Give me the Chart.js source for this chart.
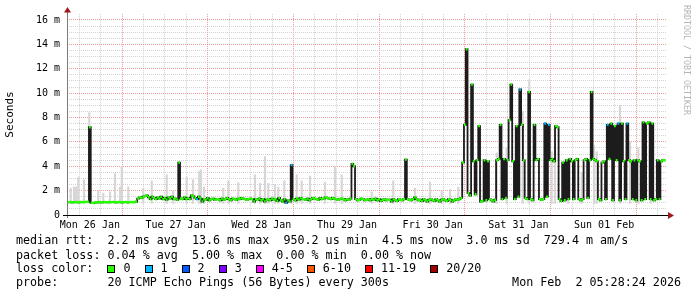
<!DOCTYPE html>
<html>
<head>
<meta charset="utf-8">
<script src="https://cdn.jsdelivr.net/npm/chart.js@4.4.1/dist/chart.umd.min.js"></script>
<style>
  html, body { margin: 0; padding: 0; background: #fff; }
  #wrap { position: relative; width: 697px; height: 297px; overflow: hidden; }
  #chart { position: absolute; left: 0; top: 0; }
  .row { position: absolute; left: 16px; font: 11.7px 'DejaVu Sans Mono', monospace; line-height: 12px; white-space: pre; color: #000; }
  .box { display: inline-block; width: 6px; height: 6px; border: 1px solid #000; margin-right: 8px; vertical-align: -1px; }
  .lbl { margin-right: 14px; }
  #stamp { position: absolute; right: 16px; top: 276px; font: 11.7px 'DejaVu Sans Mono', monospace; line-height: 12px; white-space: pre; }
  #credit { position: absolute; left: 682px; top: 5px; writing-mode: vertical-rl; font: 8.3px 'DejaVu Sans Mono', monospace; color: #b4b4b4; white-space: pre; }
</style>
</head>
<body>
<div id="wrap">
  <canvas id="chart" width="697" height="297"></canvas>
  <div class="row" style="top:234px">median rtt:  2.2 ms avg  13.6 ms max  950.2 us min  4.5 ms now  3.0 ms sd  729.4 m am/s</div>
  <div class="row" style="top:249px">packet loss: 0.04 % avg  5.00 % max  0.00 % min  0.00 % now</div>
  <div class="row" id="lossRow" style="top:262px">loss color:  </div>
  <div class="row" style="top:276px">probe:       20 ICMP Echo Pings (56 Bytes) every 300s</div>
  <div id="stamp">Mon Feb  2 05:28:24 2026</div>
  <div id="credit">RRDTOOL / TOBI OETIKER</div>
</div>
<script>
// median rtt in ms, one value per half hour
const medianMon26 = [1.05,1.06,1.04,1.05,1.07,1.05,1.04,1.06,1.05,1.07,1.06,1.08,
  7.2,1.0,0.98,1.02,1.04,1.03,1.05,1.04,1.06,1.05,1.04,1.06,
  1.05,1.07,1.05,1.04,1.06,1.05,1.04,1.05,1.06,1.04,1.05,1.06];
const medianTue27 = [1.05,1.05,1.1,1.35,1.45,1.4,1.5,1.55,1.6,1.45,1.3,1.5,
  1.4,1.3,1.45,1.35,1.5,1.3,1.4,1.25,1.45,1.35,1.5,1.3,
  1.35,1.25,4.3,1.35,1.3,1.45,1.3,1.4,1.3,1.6,1.55,1.4,
  1.3,1.5,1.35,1.1,1.3,1.25,1.4,1.2,1.3,1.35,1.25,1.3];
const medianWed28 = [1.3,1.2,1.35,1.25,1.3,1.4,1.3,1.2,1.35,1.3,1.25,1.35,
  1.3,1.4,1.35,1.3,1.25,1.3,1.35,1.3,1.1,1.3,1.25,1.35,
  1.2,1.3,1.1,1.25,1.3,1.2,1.35,1.25,1.3,1.15,1.4,1.2,
  1.1,1.3,1.0,1.2,1.1,4.1,1.3,1.2,1.35,1.25,1.4,1.3];
const medianThu29 = [1.3,1.25,1.35,1.2,1.3,1.4,1.35,1.3,1.25,1.4,1.3,1.35,
  1.45,1.4,1.35,1.3,1.4,1.35,1.3,1.25,1.3,1.35,1.3,1.2,
  1.3,1.25,1.35,4.2,4.0,1.3,1.2,1.25,1.35,1.3,1.2,1.25,
  1.3,1.2,1.3,1.25,1.35,1.2,1.3,1.15,1.25,1.3,1.2,1.25];
const medianFri30 = [1.25,1.1,1.3,1.2,1.15,1.3,1.25,1.2,1.3,4.55,1.3,1.25,
  1.2,1.3,1.45,1.3,1.2,1.25,1.15,1.3,1.2,1.1,1.25,1.3,
  1.2,1.15,1.3,1.2,1.1,1.25,1.3,1.2,1.15,1.3,1.25,1.1,
  1.2,1.3,1.25,1.3,1.4,4.3,7.4,13.6,1.8,1.6,10.7,4.4];
const medianSat31 = [1.7,4.5,7.3,1.1,1.15,4.5,1.2,4.4,1.3,1.2,1.1,1.25,
  4.5,4.6,7.4,1.3,4.6,1.4,4.5,7.8,10.7,4.4,1.3,7.3,
  1.5,10.3,7.4,4.5,1.4,1.3,10.1,1.3,1.2,7.4,4.5,4.6,
  1.3,1.25,1.3,7.5,1.5,7.4,4.5,4.6,4.4,7.3,7.2,1.3];
const medianSun01 = [1.15,4.3,1.2,4.5,1.3,4.6,4.4,1.3,4.5,4.6,1.3,1.2,
  1.3,4.5,4.6,1.4,4.5,10.1,4.6,4.5,4.4,1.3,1.2,4.3,
  4.4,1.3,7.4,4.6,7.5,1.2,7.3,4.5,7.5,1.2,7.5,4.4,
  1.3,7.5,4.5,4.4,1.3,4.5,1.2,4.5,4.4,1.2,7.6,1.3];
const medianMon02 = [7.5,7.6,1.3,7.5,1.2,1.3,4.5,1.3,4.4,4.5,4.5];

// hours (since Mon 26 Jan 00:00) where each day's series begins
const dayStarts = [6, 24, 48, 72, 96, 120, 144, 168];
const dayMedians = [medianMon26, medianTue27, medianWed28, medianThu29,
  medianFri30, medianSat31, medianSun01, medianMon02];

// samples that lost 1 of 20 pings
const lossOneHours = [42, 67, 68.5, 132.5, 139.5, 140.5, 157, 160, 162.5];

// smoke: spread of the 20 pings, hour and top value in ms
const smokeHours = [6.64,7.56,8.12,8.76,10.36,11.84,14.36,15.76,17.64,19.04,20.44,20.92,22.76,
  26.96,29.32,33.52,35.36,39.12,40.88,42.64,43.12,43.96,49.36,50.76,53.56,58.24,59.64,61.04,
  61.96,63.84,64.76,66.44,68.52,69.92,71.32,73.64,77.84,80.64,82.52,90.92,96.96,103.04,107.24,
  110.52,112.84,115.16,125.92,128.72,133.2,135.04,141.32,142.24,145.88,149.72,153.16,153.92,
  160.44,163.24,165.56,169.12];
const smokeTops = [2.2,2.3,2.3,3.1,2.9,8.4,2.0,1.8,1.9,3.4,2.3,4.0,2.3,
  2.2,2.8,3.3,2.0,3.1,2.9,3.6,3.7,2.3,2.2,2.8,2.65,3.3,2.6,4.8,
  2.6,2.5,2.3,2.8,4.2,3.3,2.8,3.2,2.7,4.0,3.3,1.9,2.8,2.2,2.7,
  2.0,2.1,2.3,5.1,5.5,8.5,11.1,5.2,5.7,3.0,3.5,5.7,5.2,
  9.0,6.0,5.5,7.65];
const smokeFloor = 0.95;

const dayLabels = ['Mon 26 Jan', 'Tue 27 Jan', 'Wed 28 Jan', 'Thu 29 Jan', 'Fri 30 Jan', 'Sat 31 Jan', 'Sun 01 Feb'];
const lossLabels = ['0', '1', '2', '3', '4-5', '6-10', '11-19', '20/20'];
const lossColors = ['#26ff00', '#00b8ff', '#0059ff', '#7e00ff', '#ff00ff', '#ff5500', '#ff0000', '#a10000'];

// build the point lists
const medianPts = [];
const lossZeroPieces = [];
const lossOnePieces = [];
dayMedians.forEach((vals, d) => {
    vals.forEach((v, i) => {
        const t = dayStarts[d] + i * 0.5;
        medianPts.push({ x: t, y: v });
        const target = lossOneHours.includes(t) ? lossOnePieces : lossZeroPieces;
        target.push({ x: t - 0.25, y: v }, { x: t + 0.25, y: v }, { x: t + 0.25, y: null });
    });
});
const smokePts = smokeHours.map((h, i) => ({ x: h, y: [smokeFloor, smokeTops[i]] }));

const lossRow = document.getElementById('lossRow');
lossLabels.forEach((lab, i) => {
    const b = document.createElement('span');
    b.className = 'box';
    b.style.background = lossColors[i];
    const t = document.createElement('span');
    t.className = 'lbl';
    t.textContent = lab;
    lossRow.appendChild(b);
    lossRow.appendChild(t);
});

const MAJOR = 'rgba(235,120,120,0.75)';
const MINOR = 'rgba(195,195,195,0.75)';
const MONO = "'DejaVu Sans Mono', monospace";

const axisArrows = {
    id: 'axisArrows',
    afterDraw(chart) {
        const { ctx, chartArea: a } = chart;
        ctx.save();
        ctx.lineWidth = 1;
        ctx.strokeStyle = '#7a7a7a';
        ctx.beginPath();
        ctx.moveTo(a.left + 0.5, a.bottom + 3);
        ctx.lineTo(a.left + 0.5, a.top - 2);
        ctx.stroke();
        ctx.strokeStyle = '#000';
        ctx.beginPath();
        ctx.moveTo(a.left - 4, a.bottom + 0.5);
        ctx.lineTo(a.right + 2, a.bottom + 0.5);
        ctx.stroke();
        ctx.fillStyle = '#a01818';
        ctx.beginPath();
        ctx.moveTo(a.right + 1, a.bottom - 3);
        ctx.lineTo(a.right + 7, a.bottom + 0.5);
        ctx.lineTo(a.right + 1, a.bottom + 4);
        ctx.closePath();
        ctx.fill();
        ctx.beginPath();
        ctx.moveTo(a.left - 3, a.top - 1.5);
        ctx.lineTo(a.left + 0.5, a.top - 7);
        ctx.lineTo(a.left + 4, a.top - 1.5);
        ctx.closePath();
        ctx.fill();
        ctx.restore();
    }
};

Chart.defaults.font.family = MONO;
Chart.defaults.color = '#000';

new Chart(document.getElementById('chart'), {
    type: 'line',
    data: {
        datasets: [
            {
                type: 'bar',
                label: 'smoke',
                data: smokePts,
                backgroundColor: '#d6d6d6',
                barThickness: 1.5,
                grouped: false,
                order: 3
            },
            {
                label: 'median',
                data: medianPts,
                stepped: 'middle',
                borderColor: '#1c1c1c',
                borderWidth: 1.8,
                pointRadius: 0,
                fill: false,
                order: 2
            },
            {
                label: lossLabels[0],
                data: lossZeroPieces,
                borderColor: lossColors[0],
                borderWidth: 2.5,
                borderCapStyle: 'butt',
                pointRadius: 0,
                spanGaps: false,
                fill: false,
                order: 1
            },
            {
                label: lossLabels[1],
                data: lossOnePieces,
                borderColor: lossColors[1],
                borderWidth: 2.5,
                borderCapStyle: 'butt',
                pointRadius: 0,
                spanGaps: false,
                fill: false,
                order: 0
            }
        ]
    },
    options: {
        responsive: false,
        animation: false,
        devicePixelRatio: 1,
        layout: { padding: { left: 0, right: 30, top: 13.9, bottom: 0 } },
        plugins: { legend: { display: false }, tooltip: { enabled: false } },
        scales: {
            x: {
                type: 'linear',
                min: 5.6,
                max: 173.6,
                offset: false,
                afterFit(s) { s.height = 82; s.paddingLeft = 0; s.paddingRight = 0; },
                afterBuildTicks(s) {
                    const t = [];
                    for (let h = 6; h <= 168; h += 6) t.push({ value: h });
                    s.ticks = t;
                },
                ticks: {
                    autoSkip: false,
                    maxRotation: 0,
                    padding: 4,
                    font: { size: 10 },
                    callback: (v) => (v % 24 === 12 ? dayLabels[(v - 12) / 24] : '')
                },
                grid: {
                    drawTicks: false,
                    color: (c) => (c.tick && c.tick.value % 24 === 0 ? MAJOR : MINOR)
                },
                border: { display: false, dash: [1, 1] }
            },
            y: {
                min: 0,
                max: 16.5,
                afterFit(s) { s.width = 67; s.paddingTop = 0; s.paddingBottom = 0; },
                afterBuildTicks(s) {
                    const t = [];
                    for (let v = 0; v <= 16; v += 0.5) t.push({ value: v });
                    s.ticks = t;
                },
                ticks: {
                    autoSkip: false,
                    padding: 7,
                    font: { size: 10 },
                    callback: (v) => (v === 0 ? '0' : v % 2 === 0 ? v + ' m' : '')
                },
                grid: {
                    drawTicks: false,
                    color: (c) => (c.tick && c.tick.value % 2 === 0 ? MAJOR : MINOR)
                },
                border: { display: false, dash: [1, 1] },
                title: {
                    display: true,
                    text: 'Seconds',
                    font: { size: 11 },
                    padding: { top: 3.5, bottom: 0 }
                }
            }
        }
    },
    plugins: [axisArrows]
});
</script>
</body>
</html>
